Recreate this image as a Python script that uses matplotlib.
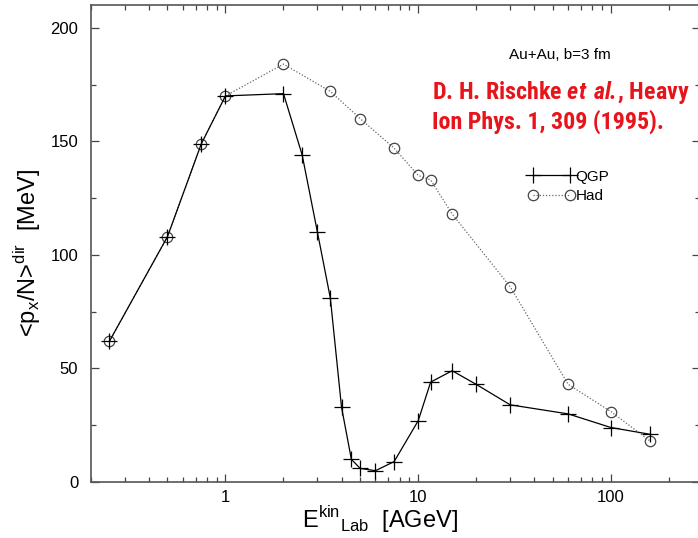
import numpy as np
import matplotlib
matplotlib.use("Agg")
import matplotlib.pyplot as plt
from matplotlib import font_manager
from matplotlib.ticker import LogLocator, MultipleLocator, NullFormatter, FixedLocator, FixedFormatter
from matplotlib.lines import Line2D

# QGP equation of state
e_qgp = [0.25, 0.5, 0.75, 1, 2, 2.5, 3, 3.5, 4, 4.5, 5, 6, 7.5, 10, 11.6, 15, 20, 30, 60, 100, 160]
px_qgp = [62, 108, 149, 170, 171, 144, 110, 81, 33, 10, 6, 5, 9, 27, 44, 49, 43, 34, 30, 24, 21]

# hadronic equation of state
e_had = [0.25, 0.5, 0.75, 1, 2, 3.5, 5, 7.5, 10, 11.6, 15, 30, 60, 100, 160]
px_had = [62, 108, 149, 170, 184, 172, 160, 147, 135, 133, 118, 86, 43, 31, 18]

xtick_vals = [1, 10, 100]
xtick_labels = ["1", "10", "100"]

# narrow bold font for the red reference, if one is installed
installed = {f.name for f in font_manager.fontManager.ttflist}
narrow = 'Liberation Sans'
for cand in ['Liberation Sans Narrow', 'DejaVu Sans Condensed', 'Roboto Condensed', 'Roboto']:
    if cand in installed:
        narrow = cand
        break

plt.rcParams['font.family'] = ['Liberation Sans', 'DejaVu Sans']
plt.rcParams['mathtext.fontset'] = 'custom'
plt.rcParams['mathtext.bfit'] = narrow + ':italic:bold'
plt.rcParams['mathtext.bf'] = narrow + ':bold'

fig = plt.figure(figsize=(6.98, 5.38), dpi=100)
ax = fig.add_axes([0.130, 0.104, 0.873, 0.8866])

ax.plot(e_had, px_had, linestyle=(0, (1, 1.5)), color='#666666', lw=0.9,
        marker='o', ms=7.5, mfc='none', mec='#444444', mew=0.9)
ax.plot(e_qgp, px_qgp, '-', color='black', lw=0.9,
        marker='+', ms=11, mew=0.9)

ax.set_xscale('log')
ax.set_xlim(0.2, 290)
ax.set_ylim(0, 210)

ax.xaxis.set_major_locator(FixedLocator(xtick_vals))
ax.xaxis.set_major_formatter(FixedFormatter(xtick_labels))
ax.xaxis.set_minor_locator(LogLocator(base=10, subs=np.arange(2, 10)))
ax.xaxis.set_minor_formatter(NullFormatter())
ax.yaxis.set_major_locator(MultipleLocator(50))
ax.yaxis.set_minor_locator(MultipleLocator(25))

ax.tick_params(which='both', direction='in', top=True, right=True,
               color='#444444', labelsize=12, width=0.9)
ax.tick_params(which='major', length=6)
ax.tick_params(which='minor', length=3.5)
ax.tick_params(axis='y', pad=9)
ax.tick_params(axis='x', pad=6)
for s in ax.spines.values():
    s.set_color('#555555')
    s.set_linewidth(1.2)

ax.set_xlabel(r'E$^{\mathregular{kin}}{}_{\mathregular{Lab}}$  [AGeV]', fontsize=17)
ax.xaxis.set_label_coords(0.475, -0.046)
ax.set_ylabel(r'<p$_{\mathregular{x}}$/N>$^{\mathregular{dir}}$  [MeV]', fontsize=17)
ax.yaxis.set_label_coords(-0.079, 0.48)

ax.text(0.770, 0.895, 'Au+Au, b=3 fm', transform=ax.transAxes,
        ha='center', va='center', fontsize=11)
ref = ax.text(0.560, 0.788, r'D. H. Rischke $\mathbfit{et\ al.}\!\mathbf{,}$ Heavy' + '\n' + 'Ion Phys. 1, 309 (1995).',
              transform=ax.transAxes, ha='left', va='center', color='#e8141b',
              fontsize=18, fontweight='bold', family=[narrow, 'DejaVu Sans'],
              linespacing=1.2)
# fit the reference block to its width in the original (about 260 px)
fig.canvas.draw()
w = ref.get_window_extent().width
ref.set_fontsize(min(18, 18 * 258 / w))

handles = [
    Line2D([], [], color='black', lw=0.9, marker='+', ms=11, mew=0.9),
    Line2D([], [], color='#666666', lw=0.9, linestyle=(0, (1, 1.5)),
           marker='o', ms=7.5, mfc='none', mec='#444444', mew=0.9),
]
ax.legend(handles, ['QGP', 'Had'], loc='center left', bbox_to_anchor=(0.718, 0.62),
          frameon=False, numpoints=2, handlelength=3.0, handletextpad=0.1,
          labelspacing=0.35, borderpad=0, borderaxespad=0, fontsize=11)

fig.savefig('out.png', dpi=100)
